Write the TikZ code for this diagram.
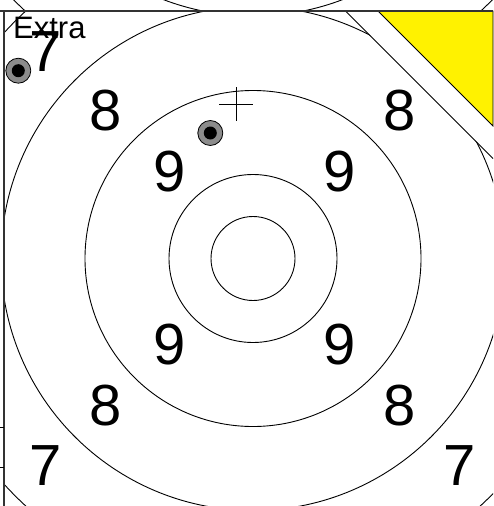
\documentclass[tikz,border=0pt]{standalone}
\usepackage{fontspec}
\setmainfont{Liberation Sans}
\begin{document}
\begin{tikzpicture}[x=1pt,y=-1pt,
  ring/.style={draw=black,line width=0.9pt},
  lbl/.style={font=\fontsize{58}{58}\selectfont,inner sep=0pt},
  panelline/.style={draw=black!80,line width=1.6pt},
  thinline/.style={draw=black,line width=0.9pt},
  hole/.style={circle,draw=black,line width=0.8pt,fill=black!45,minimum size=25pt,inner sep=0pt},
  holecore/.style={circle,fill=black,minimum size=13pt,inner sep=0pt}]
\useasboundingbox (0,0) rectangle (493,506);
% yellow corner
\filldraw[fill=yellow,draw=black,line width=0.8pt] (378,11) -- (493,11) -- (493,126) -- cycle;
% upper panel (neighbouring target)
\begin{scope}
  \clip (0,0) rectangle (493,11);
  \coordinate (c2) at (253,-236);
  \draw[ring] (c2) circle (252);
  \draw[ring] (c2) circle (336);
\end{scope}
% main target
\coordinate (c) at (253,258.5);
\begin{scope}
  \clip (4,11) -- (345.5,11) -- (493,158.5) -- (493,506) -- (4,506) -- cycle;
  \draw[ring] (c) circle (42);
  \draw[ring] (c) circle (84);
  \draw[ring] (c) circle (168);
  \draw[ring] (c) circle (252);
  \draw[ring] (c) circle (336);
\end{scope}
% diagonal cut
\coordinate (d1) at (345.5,11);
\coordinate (d2) at (493,158.5);
\draw[thinline] (d1) -- (d2);
% panel borders
\coordinate (t1) at (0,11);
\coordinate (t2) at (493,11);
\draw[panelline] (t1) -- (t2);
\coordinate (l1) at (4,11);
\coordinate (l2) at (4,506);
\draw[panelline] (l1) -- (l2);
\coordinate (k1) at (0,427);
\coordinate (k2) at (4,427);
\coordinate (k3) at (0,467);
\coordinate (k4) at (4,467);
\draw[thinline] (k1) -- (k2);
\draw[thinline] (k3) -- (k4);
% labels
\node[lbl] (n9a) at (170,172) {9};
\node[lbl] (n9b) at (340,172) {9};
\node[lbl] (n9c) at (170,345) {9};
\node[lbl] (n9d) at (340,345) {9};
\node[lbl] (n8a) at (106,111) {8};
\node[lbl] (n8b) at (400,111) {8};
\node[lbl] (n8c) at (106,406) {8};
\node[lbl] (n8d) at (400,406) {8};
\node[lbl] (n7a) at (46,52) {7};
\node[lbl] (n7c) at (46,466) {7};
\node[lbl] (n7d) at (460,466) {7};
\node[font=\fontsize{31}{31}\selectfont,inner sep=0pt,anchor=base west] (extra) at (13,38) {Extra};
% shots
\node[hole] (h1) at (18.3,70.7) {};
\node[holecore] (h1c) at (h1.center) {};
\node[hole] (h2) at (210.3,133) {};
\node[holecore] (h2c) at (h2.center) {};
% cross mark
\coordinate (p) at (236,104);
\coordinate (pl) at (219,104);
\coordinate (pr) at (253,104);
\coordinate (pt) at (236,87);
\coordinate (pb) at (236,121);
\draw[thinline] (pl) -- (pr);
\draw[thinline] (pt) -- (pb);
\end{tikzpicture}
\end{document}
